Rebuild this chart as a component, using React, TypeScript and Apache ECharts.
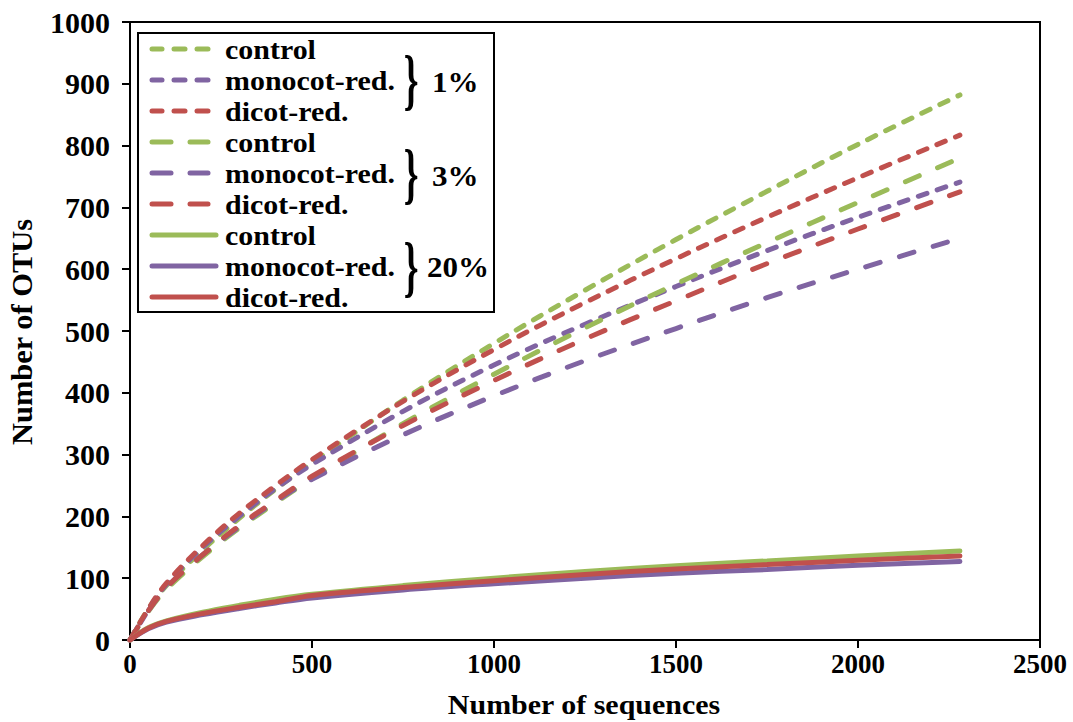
import React, { useEffect, useRef } from "react";
import * as echarts from "echarts";

// Number of sequences (x values shared by all curves)
const sequences = [0, 50, 100, 200, 300, 400, 500, 750, 1000, 1250, 1500, 1750, 2000, 2280];

// 1 % dilution
const control1 = [0, 50, 88, 146, 197, 244, 287, 388, 480, 566, 648, 726, 802, 882];
const monocot1 = [0, 48, 90, 150, 200, 245, 284, 370, 445, 511, 572, 630, 684, 741];
const dicot1 = [0, 50, 92, 153, 205, 250, 292, 386, 470, 546, 617, 684, 748, 817];
// 3 % dilution
const control3 = [0, 46, 82, 135, 181, 222, 261, 350, 430, 505, 576, 643, 708, 780];
const monocot3 = [0, 47, 85, 138, 183, 224, 260, 332, 395, 452, 504, 554, 600, 650];
const dicot3 = [0, 47, 85, 138, 185, 226, 265, 347, 420, 487, 549, 609, 665, 725];
// 20 % dilution
const control20 = [0, 20, 31, 45, 56, 66, 74, 88, 100, 111, 120, 128, 136, 144];
const monocot20 = [0, 18, 29, 41, 51, 60, 68, 81, 91, 100, 108, 114, 121, 127];
const dicot20 = [0, 19, 30, 43, 53, 62, 72, 85, 96, 106, 115, 122, 129, 136];

const legendLabels = ["control", "monocot-red.", "dicot-red."];
const groupLabels = ["1%", "3%", "20%"];
const xTitle = "Number of sequences";
const yTitle = "Number of OTUs";

const GREEN = "#9BBB59";
const PURPLE = "#8064A2";
const RED = "#C0504D";
const SHORT = [9, 11];
const LONG = [15, 20];
const FONT = "'Liberation Serif', 'Times New Roman', serif";

const defs = [
  { name: "control 1%", values: control1, color: GREEN, dash: SHORT },
  { name: "monocot-red. 1%", values: monocot1, color: PURPLE, dash: SHORT },
  { name: "dicot-red. 1%", values: dicot1, color: RED, dash: SHORT },
  { name: "control 3%", values: control3, color: GREEN, dash: LONG },
  { name: "monocot-red. 3%", values: monocot3, color: PURPLE, dash: LONG },
  { name: "dicot-red. 3%", values: dicot3, color: RED, dash: LONG },
  { name: "control 20%", values: control20, color: GREEN, dash: "solid" },
  { name: "monocot-red. 20%", values: monocot20, color: PURPLE, dash: "solid" },
  { name: "dicot-red. 20%", values: dicot20, color: RED, dash: "solid" },
];

export default function App() {
  const ref = useRef<HTMLDivElement>(null);

  useEffect(() => {
    if (!ref.current) return;
    const chart = echarts.init(ref.current, undefined, { renderer: "svg" });

    const series = defs.map((d) => ({
      name: d.name,
      type: "line",
      data: sequences.map((s, i) => [s, d.values[i]]),
      showSymbol: false,
      symbol: "none",
      smooth: 0.35,
      lineStyle: { width: 5, color: d.color, type: d.dash, cap: "round" },
      itemStyle: { color: d.color },
      emphasis: { disabled: true },
    }));

    const txt = (text: string, x: number, y: number, size: number, align = "left") => ({
      type: "text",
      x,
      y,
      scaleX: 1.07,
      style: {
        text,
        font: `bold ${size}px ${FONT}`,
        fill: "#000",
        textAlign: align,
        textVerticalAlign: "middle",
      },
      z: 11,
    });

    // legend graphics
    const rowY = [49, 80, 111, 142, 173, 204, 235, 266, 297];
    const graphics: any[] = [
      {
        type: "rect",
        shape: { x: 138, y: 33, width: 356, height: 279 },
        style: { fill: "#fff", stroke: "#000", lineWidth: 2 },
        z: 10,
      },
    ];
    defs.forEach((d, i) => {
      const y = rowY[i];
      let segs: number[][];
      if (i < 3) segs = [[152, 162], [174, 185], [197, 208]];
      else if (i < 6) segs = [[152, 171], [190, 208]];
      else segs = [[152, 216]];
      segs.forEach((sg) => {
        graphics.push({
          type: "line",
          shape: { x1: sg[0], y1: y, x2: sg[1], y2: y },
          style: { stroke: d.color, lineWidth: 5, lineCap: "round" },
          z: 11,
        });
      });
      graphics.push(txt(legendLabels[i % 3], 225, y, 28));
    });
    const braceY = [79, 173, 266];
    const pctY = [82, 176, 267];
    const pctX = [432, 432, 427];
    groupLabels.forEach((g, i) => {
      graphics.push({
        type: "text",
        x: 411,
        y: braceY[i],
        scaleX: 0.55,
        style: {
          text: "}",
          font: `bold 68px ${FONT}`,
          fill: "#000",
          textAlign: "center",
          textVerticalAlign: "middle",
        },
        z: 11,
      });
      graphics.push(txt(g, pctX[i], pctY[i], 29));
    });
    graphics.push(txt(xTitle, 584, 704, 28, "center"));
    graphics.push({
      type: "text",
      x: 22,
      y: 332,
      rotation: Math.PI / 2,
      scaleX: 1.05,
      style: {
        text: yTitle,
        font: `bold 29px ${FONT}`,
        fill: "#000",
        textAlign: "center",
        textVerticalAlign: "middle",
      },
    });

    const axisCommon = {
      axisLine: { show: true, onZero: false, lineStyle: { color: "#000", width: 2 } },
      axisTick: { show: true, inside: false, length: 8, lineStyle: { color: "#000", width: 2 } },
      splitLine: { show: false },
    };

    chart.setOption({
      animation: false,
      backgroundColor: "#fff",
      grid: {
        left: 130,
        right: 33,
        top: 22,
        bottom: 82,
        show: true,
        borderColor: "#000",
        borderWidth: 2,
        backgroundColor: "transparent",
      },
      xAxis: {
        type: "value",
        min: 0,
        max: 2500,
        interval: 500,
        ...axisCommon,
        axisLabel: {
          color: "#000",
          fontFamily: FONT,
          fontWeight: "bold",
          fontSize: 27,
          margin: 10,
          formatter: (v: number) => String(v),
        },
      },
      yAxis: {
        type: "value",
        min: 0,
        max: 1000,
        interval: 100,
        ...axisCommon,
        axisLabel: {
          color: "#000",
          fontFamily: FONT,
          fontWeight: "bold",
          fontSize: 30,
          margin: 20,
          formatter: (v: number) => String(v),
        },
      },
      series,
      graphic: graphics,
    });

    return () => chart.dispose();
  }, []);

  return (
    <div
      ref={ref}
      style={{ position: "fixed", left: 0, top: 0, width: 1073, height: 722, background: "#fff" }}
    />
  );
}
